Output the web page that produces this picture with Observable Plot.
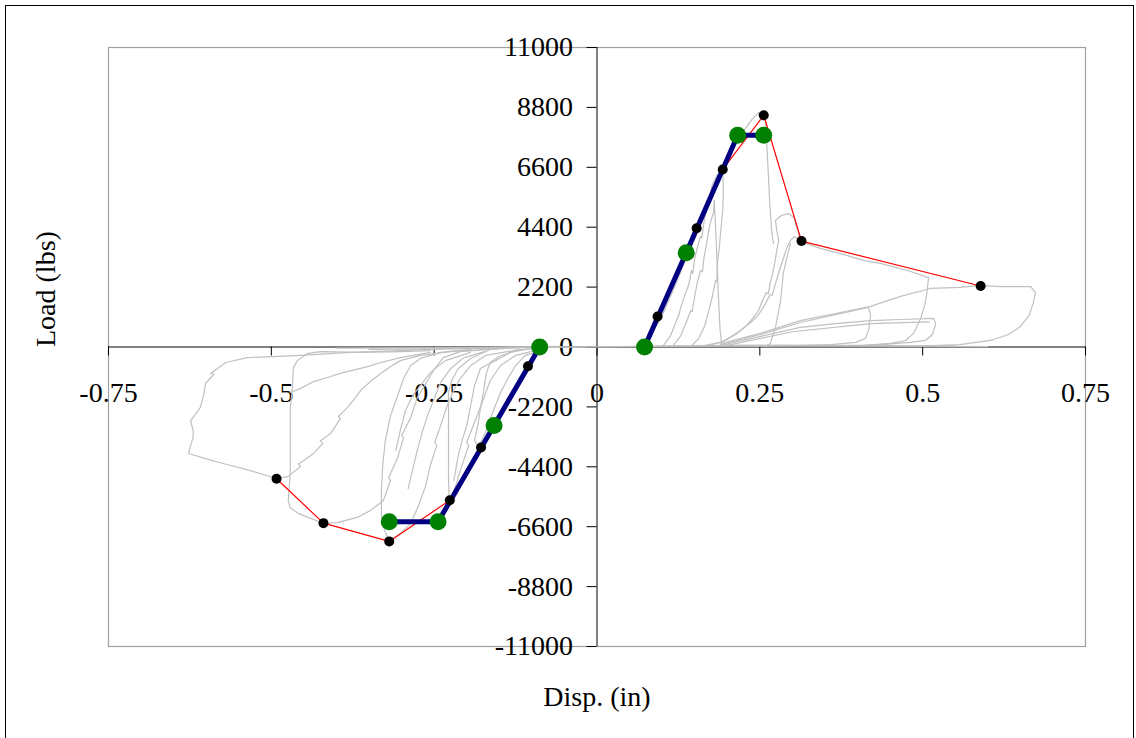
<!DOCTYPE html>
<html><head><meta charset="utf-8">
<script src="https://cdn.jsdelivr.net/npm/d3@7"></script>
<script src="https://cdn.jsdelivr.net/npm/@observablehq/plot@0.6"></script>
<style>
html,body{margin:0;padding:0;background:#fff;}
#wrap{position:relative;width:1136px;height:738px;overflow:hidden;background:#fff;}
#border{position:absolute;left:5px;top:5px;width:1127px;height:760px;border:1px solid #000;pointer-events:none;}
</style></head><body><div id="wrap"></div>
<script>
// ---- axis ticks ----
const xTicks = [-0.75, -0.5, -0.25, 0, 0.25, 0.5, 0.75];
const yTicks = [-11000, -8800, -6600, -4400, -2200, 0, 2200, 4400, 6600, 8800, 11000];

// ---- backbone envelope (red line, black points) ----
const envPos = [[0.093,1120],[0.153,4360],[0.193,6520],[0.256,8510],[0.314,3890],[0.589,2240]];
const envNeg = [[-0.106,-705],[-0.178,-3690],[-0.226,-5630],[-0.319,-7140],[-0.420,-6470],[-0.492,-4840]];

// ---- bilinear idealisation (blue line, green points) ----
const biPos = [[0.073,0],[0.137,3460],[0.216,7780],[0.256,7780]];
const biNeg = [[-0.088,0],[-0.158,-2880],[-0.244,-6420],[-0.319,-6420]];

// ---- hysteresis traces (grey) ----
const T1 = [[0.067,20],[0.082,420],[0.098,1050],[0.110,1710],[0.122,2370],[0.134,3100],[0.147,3800],[0.159,4500],[0.171,5200],[0.183,5900],[0.193,6480],[0.200,6850],[0.213,7590],[0.228,8030],[0.239,8390],[0.248,8610],[0.256,8500],[0.259,8250],[0.262,6850],[0.265,5380],[0.268,4280],[0.271,3800]];
const T2 = [[0.101,20],[0.113,420],[0.122,970],[0.126,1200],[0.128,1410],[0.134,1850],[0.141,2300],[0.145,2810],[0.147,2700],[0.150,3250],[0.154,3650],[0.159,4060],[0.161,4000],[0.164,4570],[0.168,5010],[0.173,5530],[0.177,5970],[0.184,6300],[0.190,6410]];
const T3 = [[0.116,20],[0.128,390],[0.137,900],[0.144,1340],[0.146,1300],[0.150,1850],[0.154,2370],[0.159,2810],[0.162,2760],[0.164,3250],[0.168,3760],[0.171,4210],[0.174,4570],[0.179,4940],[0.180,5380]];
const T4 = [[0.180,5380],[0.183,3920],[0.186,2080],[0.189,610],[0.192,20]];
const T5 = [[0.144,20],[0.156,310],[0.165,750],[0.171,1270],[0.177,1850],[0.182,2440],[0.184,2400],[0.185,3100],[0.188,3690],[0.190,4280],[0.193,5010],[0.194,5750],[0.193,6480]];
const T6 = [[0.159,20],[0.190,170],[0.213,460],[0.228,750],[0.239,1050],[0.248,1340],[0.254,1710],[0.260,2000],[0.263,1950],[0.266,2370],[0.270,2740],[0.273,3100],[0.276,3540],[0.279,3910],[0.276,4280],[0.274,4650],[0.283,4830],[0.294,4900],[0.302,4760],[0.308,4280],[0.312,3880],[0.343,3620],[0.374,3430],[0.409,3180],[0.435,3070],[0.477,2810],[0.509,2550],[0.507,2080],[0.504,1600],[0.497,1050],[0.486,500],[0.474,240],[0.451,130],[0.405,50]];
const T7 = [[0.167,20],[0.197,240],[0.220,610],[0.236,900],[0.248,1190],[0.257,1520],[0.266,1930],[0.269,1900],[0.274,2330],[0.280,2810],[0.286,3250],[0.291,3620],[0.297,3910],[0.303,4060],[0.312,3880]];
const T8 = [[0.259,20],[0.266,130],[0.274,720],[0.282,1710],[0.286,2700],[0.293,3430],[0.297,3800]];
const T9 = [[0.190,130],[0.251,500],[0.312,970],[0.366,1230],[0.420,1490],[0.466,1860],[0.512,2150],[0.557,2190],[0.587,2260],[0.620,2220],[0.666,2220],[0.673,2000],[0.670,1630],[0.664,1190],[0.650,750],[0.632,460],[0.604,240],[0.557,90],[0.512,55],[0.451,20]];
const T10 = [[0.190,55],[0.251,390],[0.312,720],[0.366,860],[0.420,970],[0.466,1010],[0.517,1050],[0.520,830],[0.515,460],[0.504,240],[0.481,170],[0.435,90],[0.405,55]];
const T11 = [[0.190,90],[0.251,460],[0.312,900],[0.366,1190],[0.417,1450],[0.420,1160],[0.417,610],[0.412,310],[0.397,170],[0.359,90],[0.312,55]];
const T12 = [[0.200,60],[0.300,560],[0.420,860],[0.510,920]];
const S1 = [[-0.400,-40],[-0.300,-30],[-0.200,-20],[-0.100,0],[0.000,10],[0.100,20],[0.200,30],[0.300,40],[0.450,30],[0.600,15]];
const S2 = [[-0.350,-90],[-0.200,-60],[-0.100,-20],[0.000,0],[0.100,40],[0.250,70],[0.400,60],[0.550,40]];
const N1 = [[-0.056,20],[-0.148,-20],[-0.225,-60],[-0.302,-130],[-0.379,-200],[-0.455,-310],[-0.497,-350],[-0.537,-390],[-0.570,-570],[-0.593,-970],[-0.588,-1000],[-0.601,-1340],[-0.604,-1780],[-0.609,-2220],[-0.618,-2520],[-0.624,-2700],[-0.620,-3070],[-0.620,-3320],[-0.624,-3620],[-0.627,-3910],[-0.601,-4100],[-0.574,-4280],[-0.532,-4540],[-0.492,-4830],[-0.475,-4760],[-0.455,-4390],[-0.458,-4300],[-0.435,-3910],[-0.421,-3540],[-0.425,-3450],[-0.409,-3180],[-0.394,-2630],[-0.397,-2550],[-0.383,-2220],[-0.371,-1860],[-0.363,-1600],[-0.348,-1270],[-0.332,-970],[-0.317,-720],[-0.302,-500],[-0.271,-310],[-0.225,-170],[-0.148,-55]];
const N1b = [[-0.471,-1670],[-0.455,-1520],[-0.435,-1270],[-0.414,-1120],[-0.394,-970],[-0.371,-830],[-0.352,-720],[-0.332,-570],[-0.302,-390],[-0.256,-200]];
const N2 = [[-0.256,-130],[-0.302,-170],[-0.363,-200],[-0.425,-170],[-0.445,-240],[-0.460,-500],[-0.466,-750],[-0.468,-1600],[-0.471,-2220],[-0.471,-3430],[-0.471,-4650],[-0.474,-5640],[-0.471,-5900],[-0.458,-6120],[-0.420,-6480],[-0.399,-6450],[-0.368,-6260],[-0.348,-6010],[-0.328,-5640],[-0.317,-4900],[-0.320,-4800],[-0.306,-4060],[-0.297,-3320],[-0.300,-3250],[-0.286,-2590],[-0.276,-1860],[-0.260,-1230],[-0.251,-860],[-0.236,-390],[-0.210,-170],[-0.148,-55]];
const N3 = [[-0.194,-90],[-0.240,-200],[-0.271,-420],[-0.286,-680],[-0.297,-1160],[-0.306,-1780],[-0.317,-2520],[-0.325,-3430],[-0.329,-4350],[-0.331,-5270],[-0.331,-6190],[-0.326,-6740],[-0.319,-7140],[-0.302,-6850],[-0.286,-6480],[-0.274,-5820],[-0.263,-5090],[-0.256,-4350],[-0.246,-3620],[-0.249,-3500],[-0.240,-2880],[-0.230,-2150],[-0.220,-1600],[-0.210,-1160],[-0.194,-680],[-0.171,-310],[-0.118,-90]];
const N4 = [[-0.118,-20],[-0.164,-90],[-0.194,-420],[-0.213,-790],[-0.223,-1230],[-0.228,-1670],[-0.228,-2700],[-0.228,-3800],[-0.228,-4720],[-0.227,-5640],[-0.220,-5340],[-0.210,-4540],[-0.197,-3620],[-0.200,-3500],[-0.187,-2700],[-0.174,-1890],[-0.164,-1230],[-0.148,-680],[-0.125,-310],[-0.087,-90]];
const N5 = [[-0.087,-20],[-0.125,-130],[-0.151,-350],[-0.164,-570],[-0.170,-970],[-0.174,-1600],[-0.179,-2260],[-0.183,-2880],[-0.188,-3430],[-0.182,-3690],[-0.170,-3070],[-0.159,-2330],[-0.148,-1670],[-0.137,-1160],[-0.125,-680],[-0.110,-310],[-0.079,-90]];
const N6 = [[-0.102,-55],[-0.133,-200],[-0.156,-500],[-0.179,-790],[-0.188,-1410],[-0.194,-2150],[-0.200,-2880],[-0.207,-3430],[-0.213,-3980],[-0.217,-4540],[-0.220,-4900]];
const N7 = [[-0.309,-3810],[-0.302,-3070],[-0.294,-2330],[-0.283,-1780],[-0.271,-1420],[-0.256,-940],[-0.233,-500],[-0.194,-200]];
const N8 = [[-0.290,-5200],[-0.283,-4500],[-0.276,-3800],[-0.268,-3100],[-0.260,-2500],[-0.250,-1900],[-0.240,-1300],[-0.225,-800],[-0.205,-400],[-0.170,-150]];

const traces = [S1,S2,T1,T2,T3,T4,T5,T6,T7,T8,T9,T10,T11,T12,N1,N1b,N2,N3,N4,N5,N6,N7,N8];

// ---- build tables ----
const traceData = traces.flatMap((t,i)=>t.map(([x,y])=>({x,y,id:i})));
const envData = [...envPos.map(([x,y])=>({x,y,side:"p"})), ...envNeg.map(([x,y])=>({x,y,side:"n"}))];
const biData = [...biPos.map(([x,y])=>({x,y,side:"p"})), ...biNeg.map(([x,y])=>({x,y,side:"n"}))];

const W = 1136, H = 738, ml = 108, mr = 51, mt = 47, mb = 92;
const xDom = [-0.75, 0.75], yDom = [-11000, 11000];
const sx = d3.scaleLinear(xDom, [ml, W - mr]);
const sy = d3.scaleLinear(yDom, [H - mb, mt]);
const axDx = sx(0) - ml;           // shift y-axis to x = 0
const axDy = sy(0) - (H - mb);     // shift x-axis to y = 0
const font = "'Liberation Serif','Times New Roman',serif";

const chart = Plot.plot({
  width: W, height: H,
  marginLeft: ml, marginRight: mr, marginTop: mt, marginBottom: mb,
  x: {domain: xDom},
  y: {domain: yDom},
  style: {fontFamily: font, fontSize: "28px", color: "#000", background: "transparent"},
  marks: [
    Plot.frame({stroke: "#a0a0a0", strokeWidth: 1.2}),
    Plot.ruleY([0], {stroke: "#000", strokeWidth: 1}),
    Plot.ruleX([0], {stroke: "#000", strokeWidth: 1}),
    Plot.axisY(yTicks, {anchor: "left", dx: axDx, tickSize: 10, tickPadding: 14, tickFormat: d => String(d), label: null, stroke: "#000", fill: "#000"}),
    Plot.axisX(xTicks, {anchor: "bottom", dy: axDy, tickSize: 9, tickPadding: 26, tickFormat: d => String(d), label: null, stroke: "#000", fill: "#000"}),
    Plot.line(traceData, {x: "x", y: "y", z: "id", stroke: "#c0c0c0", strokeWidth: 1.2, curve: "linear"}),
    Plot.line(envData, {x: "x", y: "y", z: "side", stroke: "#ff0000", strokeWidth: 1.2}),
    Plot.line(biData, {x: "x", y: "y", z: "side", stroke: "#000080", strokeWidth: 5}),
    Plot.dot(envData, {x: "x", y: "y", r: 5, fill: "#000", stroke: null}),
    Plot.dot(biData, {x: "x", y: "y", r: 8.5, fill: "#008000", stroke: null}),
    Plot.text(["Disp. (in)"], {frameAnchor: "bottom", dy: 51, lineAnchor: "middle", fontSize: 28, fill: "#000"}),
    Plot.text(["Load (lbs)"], {frameAnchor: "left", dx: -62, rotate: -90, lineAnchor: "middle", fontSize: 28, fill: "#000"})
  ]
});
const wrap = document.getElementById("wrap");
wrap.appendChild(chart);
const b = document.createElement("div"); b.id = "border"; wrap.appendChild(b);
</script></body></html>
